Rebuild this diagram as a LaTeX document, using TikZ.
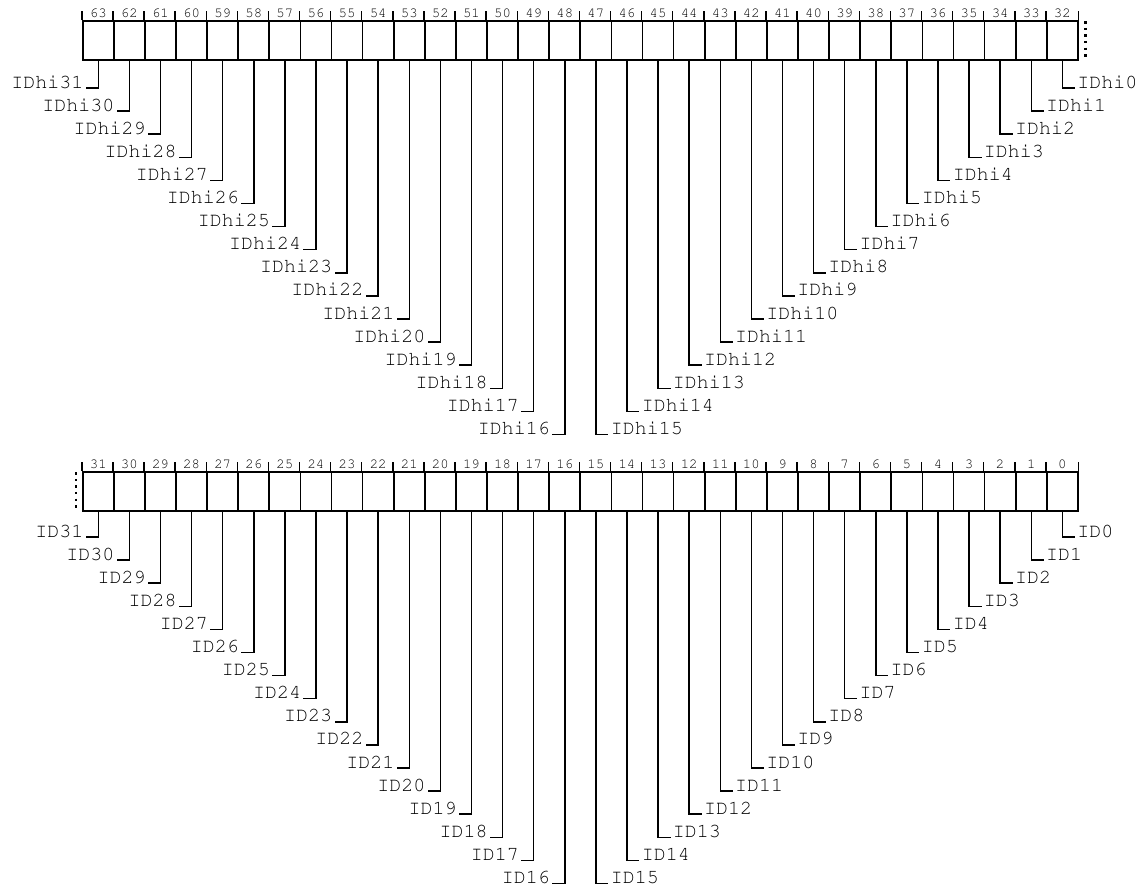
\documentclass[tikz,border=0pt]{standalone}
\usepackage[T1]{fontenc}
\usepackage{courier}
\usepackage{tikz}
\tikzset{
  cell/.style={draw,line width=0.85pt,minimum width=15.55pt,minimum height=19.5pt,inner sep=0},
  bitno/.style={font=\ttfamily\fontsize{7}{8}\selectfont,inner sep=0},
  tick/.style={line width=0.7pt},
  lead/.style={line width=0.75pt},
  sig/.style={font=\ttfamily\fontsize{10}{12}\selectfont,inner ysep=0,inner xsep=1pt},
  cont/.style={line width=1.3pt,dash pattern=on 1.2pt off 2.1pt},
}

\begin{document}
\begin{tikzpicture}[x=0.5pt,y=-0.5pt]
  \def\cw{31.1}\def\lx{82.7}\def\dy{23.1}
  \useasboundingbox (0,0) rectangle (1146,895);

  % ---------------- upper word: bits 63..32 ----------------
  \foreach \i in {0,...,31}{
    \pgfmathtruncatemacro\b{63-\i}
    \node[cell] (h\b) at (\lx+\i*\cw+\cw/2,40.5) {};
    \node[bitno] (nh\b) at (\lx+\i*\cw+\cw/2,13) {\b};
    \draw[tick] (h\b.north west) -- ++(0,-9);
  }
  \draw[tick] (h32.north east) -- ++(0,-9);
  \draw[cont] ([xshift=3.5pt,yshift=-0.5pt]h32.north east) -- ([xshift=3.5pt,yshift=2pt]h32.south east);

  \foreach \i in {0,...,15}{
    \pgfmathtruncatemacro\b{63-\i}
    \pgfmathtruncatemacro\s{31-\i}
    \node[sig,anchor=base east] (lh\b) at ({\lx+\i*\cw+\cw/2-12.5},{88+\i*\dy}) {IDhi\s};
    \draw[lead] (h\b.south) |- (lh\b.base east);
  }
  \foreach \i in {16,...,31}{
    \pgfmathtruncatemacro\b{63-\i}
    \pgfmathtruncatemacro\s{31-\i}
    \node[sig,anchor=base west] (lh\b) at ({\lx+\i*\cw+\cw/2+12.5},{88+\s*\dy}) {IDhi\s};
    \draw[lead] (h\b.south) |- (lh\b.base west);
  }

  % ---------------- lower word: bits 31..0 ----------------
  \foreach \i in {0,...,31}{
    \pgfmathtruncatemacro\b{31-\i}
    \node[cell] (l\b) at (\lx+\i*\cw+\cw/2,491.5) {};
    \node[bitno] (nl\b) at (\lx+\i*\cw+\cw/2,464) {\b};
    \draw[tick] (l\b.north west) -- ++(0,-9);
  }
  \draw[tick] (l0.north east) -- ++(0,-9);
  \draw[cont] ([xshift=-3pt,yshift=-0.5pt]l31.north west) -- ([xshift=-3pt,yshift=2pt]l31.south west);

  \foreach \i in {0,...,15}{
    \pgfmathtruncatemacro\b{31-\i}
    \node[sig,anchor=base east] (ll\b) at ({\lx+\i*\cw+\cw/2-12.5},{537+\i*\dy}) {ID\b};
    \draw[lead] (l\b.south) |- (ll\b.base east);
  }
  \foreach \i in {16,...,31}{
    \pgfmathtruncatemacro\b{31-\i}
    \node[sig,anchor=base west] (ll\b) at ({\lx+\i*\cw+\cw/2+12.5},{537+\b*\dy}) {ID\b};
    \draw[lead] (l\b.south) |- (ll\b.base west);
  }
\end{tikzpicture}
\end{document}
